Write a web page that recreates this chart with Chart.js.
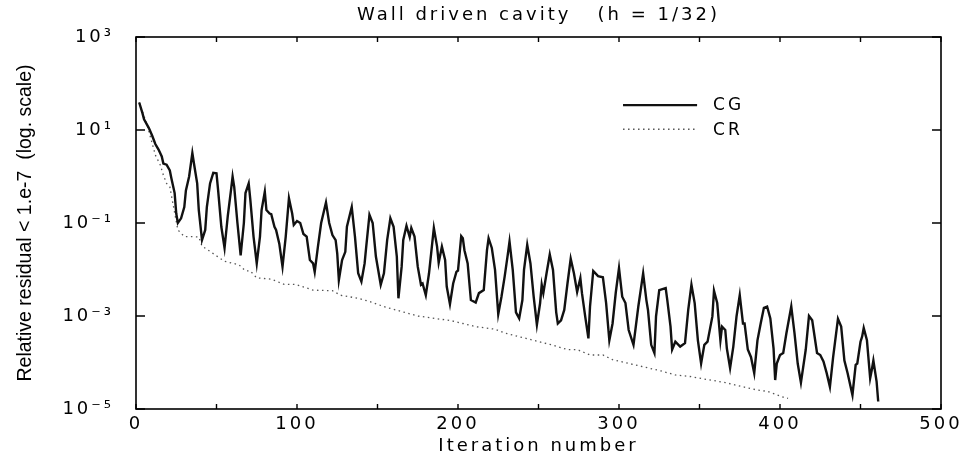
<!DOCTYPE html>
<html>
<head>
<meta charset="utf-8">
<script src="https://cdn.jsdelivr.net/npm/chart.js@4.4.1/dist/chart.umd.min.js"></script>
<style>
html,body{margin:0;padding:0;background:#fff;}
#wrap{width:965px;height:460px;}
</style>
</head>
<body>
<div id="wrap"><canvas id="c" width="965" height="460"></canvas></div>
<script>
// ---- text ----
const titleText = 'Wall driven cavity   (h = 1/32)';
const xTitle = 'Iteration number';
const yTitle = 'Relative residual < 1.e-7  (log. scale)';
const seriesNames = ['CG', 'CR'];

// ---- ticks ----
const xTickValues = [0, 100, 200, 300, 400, 500];
const yTickValues = [1e-5, 1e-3, 1e-1, 1e1, 1e3];
const yTickLabels = ['10\u207B\u2075', '10\u207B\u00B3', '10\u207B\u00B9', '10\u00B9', '10\u00B3'];

// ---- CG (solid) ----
const cgIter = [
  2,4,5,8,10,12,14,16,17,19,
  21,22,24,25,26,28,30,31,33,35,
  36,38,39,41,43,44,46,48,50,51,
  53,55,57,59,60,61,63,65,67,68,
  70,71,73,75,77,78,80,81,83,84,
  86,87,89,91,93,95,97,98,100,102,
  104,106,108,110,111,113,115,118,120,122,
  124,125,126,128,130,131,133,134,136,138,
  140,142,143,145,147,149,152,154,156,158,
  160,162,163,165,166,168,170,171,173,175,
  177,178,180,182,185,187,188,190,192,193,
  195,197,199,200,202,203,204,206,208,211,
  213,216,218,219,221,223,225,227,229,231,
  232,234,236,238,240,241,243,245,247,249,
  251,252,253,255,257,259,261,262,264,266,
  268,270,272,274,276,277,279,281,282,284,
  287,290,292,294,296,298,300,302,304,306,
  309,312,315,317,318,320,322,323,325,329,
  330,332,333,335,338,341,343,345,347,349,
  351,353,355,358,359,361,363,364,366,367,
  369,371,373,375,377,378,380,382,384,386,
  388,390,392,394,396,397,398,400,402,404,
  407,409,411,413,416,418,420,423,425,427,
  429,431,433,436,438,440,442,445,447,448,
  450,451,452,454,456,457,458,460,461
];
const cgResidual = [
  39,23,17,11,7.6,5.0,3.8,2.7,1.9,1.8,
  1.35,0.91,0.44,0.16,0.10,0.126,0.22,0.50,1.0,3.2,
  1.9,0.71,0.19,0.043,0.071,0.22,0.71,1.2,1.17,0.51,
  0.083,0.029,0.14,0.51,1.0,0.60,0.10,0.020,0.10,0.44,
  0.71,0.32,0.051,0.0135,0.051,0.19,0.47,0.19,0.16,0.155,
  0.083,0.071,0.036,0.0115,0.051,0.34,0.16,0.091,0.11,0.10,
  0.058,0.051,0.016,0.0135,0.0089,0.031,0.10,0.275,0.10,0.055,
  0.043,0.022,0.0059,0.016,0.024,0.083,0.16,0.22,0.051,0.0083,
  0.0055,0.0135,0.031,0.15,0.10,0.019,0.0047,0.0083,0.043,0.126,
  0.083,0.019,0.0024,0.0115,0.043,0.087,0.050,0.078,0.051,0.0115,
  0.0047,0.0050,0.0028,0.0083,0.078,0.031,0.014,0.031,0.016,0.0043,
  0.0018,0.0050,0.0089,0.0095,0.052,0.047,0.026,0.0135,0.0022,0.00195,
  0.0031,0.0036,0.026,0.047,0.029,0.0098,0.0011,0.0026,0.0071,0.022,
  0.040,0.0098,0.0012,0.00089,0.0022,0.0098,0.034,0.0135,0.0026,0.00065,
  0.0019,0.0047,0.0031,0.0083,0.021,0.0098,0.0012,0.00069,0.00081,0.00135,
  0.0050,0.017,0.0083,0.0033,0.0065,0.0031,0.00098,0.00033,0.0016,0.0093,
  0.0072,0.0068,0.0019,0.00030,0.00069,0.0032,0.0107,0.0026,0.0019,0.00050,
  0.00024,0.0016,0.0083,0.0022,0.00135,0.00024,0.00016,0.00098,0.0036,0.0040,
  0.0022,0.00059,0.00019,0.00028,0.00022,0.00026,0.00135,0.0047,0.0019,0.00030,
  0.000095,0.00024,0.00028,0.00098,0.0035,0.0019,0.00030,0.00059,0.00050,0.00020,
  0.000076,0.00022,0.00098,0.0028,0.00069,0.00069,0.00019,0.00013,0.000059,0.00030,
  0.00069,0.0015,0.0016,0.00089,0.00020,0.000042,0.000095,0.000145,0.00016,0.00043,
  0.0016,0.00043,0.000095,0.000037,0.00019,0.0010,0.00081,0.00016,0.000145,0.000105,
  0.000059,0.000030,0.00013,0.00087,0.00059,0.00011,0.000059,0.000020,0.000089,0.000095,
  0.00028,0.00036,0.00055,0.00030,0.000046,0.000069,0.00011,0.000039,0.0000145
];

// ---- CR (dotted) ----
const crIter = [
  2,7,12,15,17,19,21,26,30,35,
  39,41,55,64,68,71,75,84,92,99,
  110,122,127,138,146,155,175,196,203,211,
  223,229,247,258,268,274,282,290,296,326,
  335,344,366,377,385,392,402,405
];
const crResidual = [
  39,12.6,2.9,1.8,1.07,0.71,0.60,0.071,0.051,0.051,
  0.050,0.032,0.015,0.0126,0.0093,0.0093,0.0066,0.0062,0.0048,0.0048,
  0.0036,0.0035,0.0028,0.0024,0.0020,0.00155,0.0010,0.00079,0.00069,0.00059,
  0.00052,0.00043,0.00030,0.00024,0.00019,0.00019,0.000145,0.000145,0.000115,0.000066,
  0.000054,0.000050,0.000037,0.000030,0.000026,0.000024,0.000018,0.000017
];

Chart.defaults.font.family = "'DejaVu Sans', 'Liberation Sans', sans-serif";
Chart.defaults.color = '#000';

// wide lettering for horizontal texts (the y-axis title keeps normal spacing)
const wideText = {
  id: 'wideText',
  beforeLayout(chart) { chart.ctx.letterSpacing = '3px'; },
  beforeDraw(chart) {
    chart.ctx.letterSpacing = '3px';
    const ys = chart.scales.y;
    if (ys && !ys._plainTitle) {
      const orig = ys.drawTitle;
      ys.drawTitle = function () {
        const c = this.ctx, prev = c.letterSpacing;
        c.letterSpacing = '0px';
        orig.call(this);
        c.letterSpacing = prev;
      };
      ys._plainTitle = true;
    }
  }
};

// boxed frame with inward ticks on all four sides
const frameTicks = {
  id: 'frameTicks',
  afterDatasetsDraw(chart) {
    const {ctx, chartArea: ca, scales} = chart;
    ctx.save();
    ctx.strokeStyle = '#000';
    ctx.lineWidth = 1.6;
    ctx.strokeRect(ca.left, ca.top, ca.right - ca.left, ca.bottom - ca.top);
    ctx.lineWidth = 1.4;
    ctx.beginPath();
    scales.x.ticks.forEach(t => {
      const px = scales.x.getPixelForValue(t.value);
      ctx.moveTo(px, ca.bottom); ctx.lineTo(px, ca.bottom - 5);
      ctx.moveTo(px, ca.top); ctx.lineTo(px, ca.top + 5);
    });
    scales.y.ticks.forEach(t => {
      const py = scales.y.getPixelForValue(t.value);
      ctx.moveTo(ca.left, py); ctx.lineTo(ca.left + 9, py);
      ctx.moveTo(ca.right, py); ctx.lineTo(ca.right - 9, py);
    });
    ctx.stroke();
    ctx.restore();
  }
};

// legend inside the plot, upper right
const insideLegend = {
  id: 'insideLegend',
  afterDraw(chart) {
    const {ctx, chartArea: ca} = chart;
    const x0 = ca.left + 0.605 * (ca.right - ca.left);
    const len = 0.092 * (ca.right - ca.left);
    const gap = 16;
    ctx.save();
    ctx.letterSpacing = '3px';
    ctx.font = "17px 'DejaVu Sans', sans-serif";
    ctx.fillStyle = '#000';
    ctx.textBaseline = 'middle';
    ctx.textAlign = 'left';
    chart.data.datasets.forEach((ds, i) => {
      const y = ca.top + (0.183 + i * 0.065) * (ca.bottom - ca.top);
      ctx.strokeStyle = ds.borderColor;
      ctx.lineWidth = ds.borderWidth;
      ctx.setLineDash(ds.borderDash || []);
      ctx.beginPath(); ctx.moveTo(x0, y); ctx.lineTo(x0 + len, y); ctx.stroke();
      ctx.fillText(ds.label, x0 + len + gap, y + 1);
    });
    ctx.restore();
  }
};

new Chart(document.getElementById('c'), {
  type: 'line',
  data: {
    datasets: [
      {
        label: seriesNames[0],
        data: cgIter.map((x, i) => ({x: x, y: cgResidual[i]})),
        borderColor: '#111', borderWidth: 2.4, pointRadius: 0, tension: 0, fill: false
      },
      {
        label: seriesNames[1],
        data: crIter.map((x, i) => ({x: x, y: crResidual[i]})),
        borderColor: '#555', borderWidth: 1.3, borderDash: [1.5, 3.5], pointRadius: 0, tension: 0, fill: false
      }
    ]
  },
  options: {
    responsive: false,
    animation: false,
    devicePixelRatio: 1,
    layout: {padding: {left: 0, right: 24, top: 0, bottom: 0}},
    plugins: {
      legend: {display: false},
      tooltip: {enabled: false},
      title: {
        display: true, text: titleText, fullSize: false, color: '#000',
        font: {size: 18, weight: 'normal', lineHeight: 1.2},
        padding: {top: 5, bottom: 10.4}
      }
    },
    scales: {
      x: {
        type: 'linear', min: 0, max: 500,
        grid: {display: false, drawTicks: false},
        border: {display: false},
        ticks: {
          stepSize: 50, autoSkip: false, maxRotation: 0, minRotation: 0, padding: 5,
          font: {size: 18},
          callback: (v) => xTickValues.includes(v) ? String(v) : ''
        },
        title: {display: true, text: xTitle, font: {size: 18}, padding: {top: 0, bottom: 3}},
        afterFit(s) { s.height = 51; s.paddingLeft = 0; s.paddingRight = 0; }
      },
      y: {
        type: 'logarithmic', min: 1e-5, max: 1e3,
        grid: {display: false, drawTicks: false},
        border: {display: false},
        afterBuildTicks(s) { s.ticks = yTickValues.map(v => ({value: v})); },
        ticks: {
          padding: 22, font: {size: 18},
          callback: (v, i) => yTickLabels[i]
        },
        title: {
          display: true, text: yTitle,
          font: {family: "'Liberation Sans', Arial, sans-serif", size: 19.5},
          padding: {top: 14, bottom: 0}
        },
        afterFit(s) { s.width = 136; s.paddingTop = 0; s.paddingBottom = 0; }
      }
    }
  },
  plugins: [wideText, frameTicks, insideLegend]
});
</script>
</body>
</html>
